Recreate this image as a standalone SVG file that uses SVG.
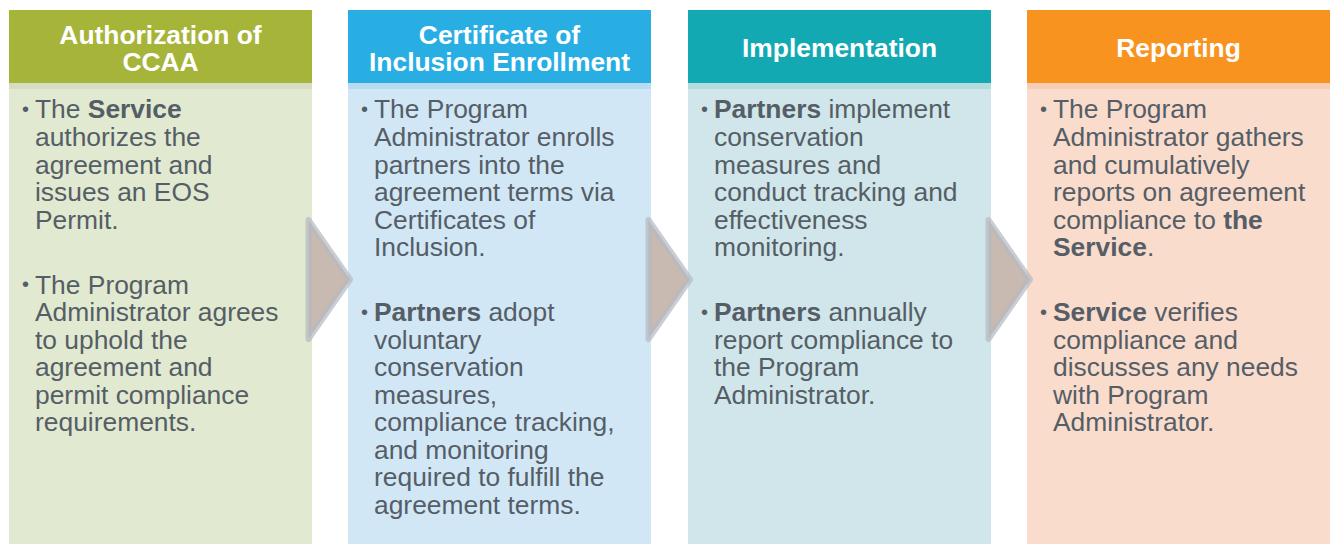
<svg xmlns="http://www.w3.org/2000/svg" width="1334" height="544" viewBox="0 0 1334 544">
<defs>
<style>
.hd{font-family:"Liberation Sans",Arial,sans-serif;font-size:26.4px;font-weight:bold;fill:#ffffff;text-anchor:middle}
.tx{font-family:"Liberation Sans",Arial,sans-serif;font-size:26.4px;fill:#555e66}
.bu{font-family:"Liberation Sans",Arial,sans-serif;font-size:20px;fill:#555e66}
.b{font-weight:bold}
.arrow{fill:#c8b9b1;stroke:#b4b9c2;stroke-opacity:0.7;stroke-width:6;stroke-linejoin:round}
</style>
</defs>
<rect width="1334" height="544" fill="#ffffff"/>

<g id="col1">
<rect x="9" y="10" width="303" height="73" fill="#a6b43a"/>
<rect x="9" y="83" width="303" height="6" fill="#d6ddc0"/>
<rect x="9" y="89" width="303" height="455" fill="#e1e9d0"/>
<text class="hd"><tspan x="160.5" y="44">Authorization of</tspan><tspan x="160.5" y="71">CCAA</tspan></text>
<text class="bu" x="22" y="116">•</text>
<text class="tx"><tspan x="35" y="118">The <tspan class="b">Service</tspan></tspan><tspan x="35" y="146">authorizes the</tspan><tspan x="35" y="173.5">agreement and</tspan><tspan x="35" y="201">issues an EOS</tspan><tspan x="35" y="228.5">Permit.</tspan></text>
<text class="bu" x="22" y="291">•</text>
<text class="tx"><tspan x="35" y="293.5">The Program</tspan><tspan x="35" y="321">Administrator agrees</tspan><tspan x="35" y="348.5">to uphold the</tspan><tspan x="35" y="376">agreement and</tspan><tspan x="35" y="403.5">permit compliance</tspan><tspan x="35" y="431">requirements.</tspan></text>
</g>

<g id="col2">
<rect x="348" y="10" width="303" height="73" fill="#29aee4"/>
<rect x="348" y="83" width="303" height="6" fill="#b8dbf2"/>
<rect x="348" y="89" width="303" height="455" fill="#d2e7f6"/>
<text class="hd"><tspan x="499.5" y="44">Certificate of</tspan><tspan x="499.5" y="71">Inclusion Enrollment</tspan></text>
<text class="bu" x="361" y="116">•</text>
<text class="tx"><tspan x="374" y="118">The Program</tspan><tspan x="374" y="146">Administrator enrolls</tspan><tspan x="374" y="173.5">partners into the</tspan><tspan x="374" y="201">agreement terms via</tspan><tspan x="374" y="228.5">Certificates of</tspan><tspan x="374" y="256">Inclusion.</tspan></text>
<text class="bu" x="361" y="318.5">•</text>
<text class="tx"><tspan x="374" y="321"><tspan class="b">Partners</tspan> adopt</tspan><tspan x="374" y="348.5">voluntary</tspan><tspan x="374" y="376">conservation</tspan><tspan x="374" y="403.5">measures,</tspan><tspan x="374" y="431">compliance tracking,</tspan><tspan x="374" y="458.5">and monitoring</tspan><tspan x="374" y="486">required to fulfill the</tspan><tspan x="374" y="513.5">agreement terms.</tspan></text>
</g>

<g id="col3">
<rect x="688" y="10" width="303" height="73" fill="#13a9b3"/>
<rect x="688" y="83" width="303" height="6" fill="#b4dcdf"/>
<rect x="688" y="89" width="303" height="455" fill="#d1e6ea"/>
<text class="hd" x="839.5" y="57">Implementation</text>
<text class="bu" x="701" y="116">•</text>
<text class="tx"><tspan x="714" y="118"><tspan class="b">Partners</tspan> implement</tspan><tspan x="714" y="146">conservation</tspan><tspan x="714" y="173.5">measures and</tspan><tspan x="714" y="201">conduct tracking and</tspan><tspan x="714" y="228.5">effectiveness</tspan><tspan x="714" y="256">monitoring.</tspan></text>
<text class="bu" x="701" y="318.5">•</text>
<text class="tx"><tspan x="714" y="321"><tspan class="b">Partners</tspan> annually</tspan><tspan x="714" y="348.5">report compliance to</tspan><tspan x="714" y="376">the Program</tspan><tspan x="714" y="403.5">Administrator.</tspan></text>
</g>

<g id="col4">
<rect x="1027" y="10" width="303" height="73" fill="#f7931e"/>
<rect x="1027" y="83" width="303" height="6" fill="#f8cdb6"/>
<rect x="1027" y="89" width="303" height="455" fill="#fadccd"/>
<text class="hd" x="1178.5" y="57">Reporting</text>
<text class="bu" x="1040" y="116">•</text>
<text class="tx"><tspan x="1053" y="118">The Program</tspan><tspan x="1053" y="146">Administrator gathers</tspan><tspan x="1053" y="173.5">and cumulatively</tspan><tspan x="1053" y="201">reports on agreement</tspan><tspan x="1053" y="228.5">compliance to <tspan class="b">the</tspan></tspan><tspan x="1053" y="256"><tspan class="b">Service</tspan>.</tspan></text>
<text class="bu" x="1040" y="318.5">•</text>
<text class="tx"><tspan x="1053" y="321"><tspan class="b">Service</tspan> verifies</tspan><tspan x="1053" y="348.5">compliance and</tspan><tspan x="1053" y="376">discusses any needs</tspan><tspan x="1053" y="403.5">with Program</tspan><tspan x="1053" y="431">Administrator.</tspan></text>
</g>

<g id="connectors">
<polygon class="arrow" points="308.5,220 350,279.5 308.5,339"/>
<polygon class="arrow" points="648.5,220 690,279.5 648.5,339"/>
<polygon class="arrow" points="988.5,220 1030,279.5 988.5,339"/>
</g>
</svg>
